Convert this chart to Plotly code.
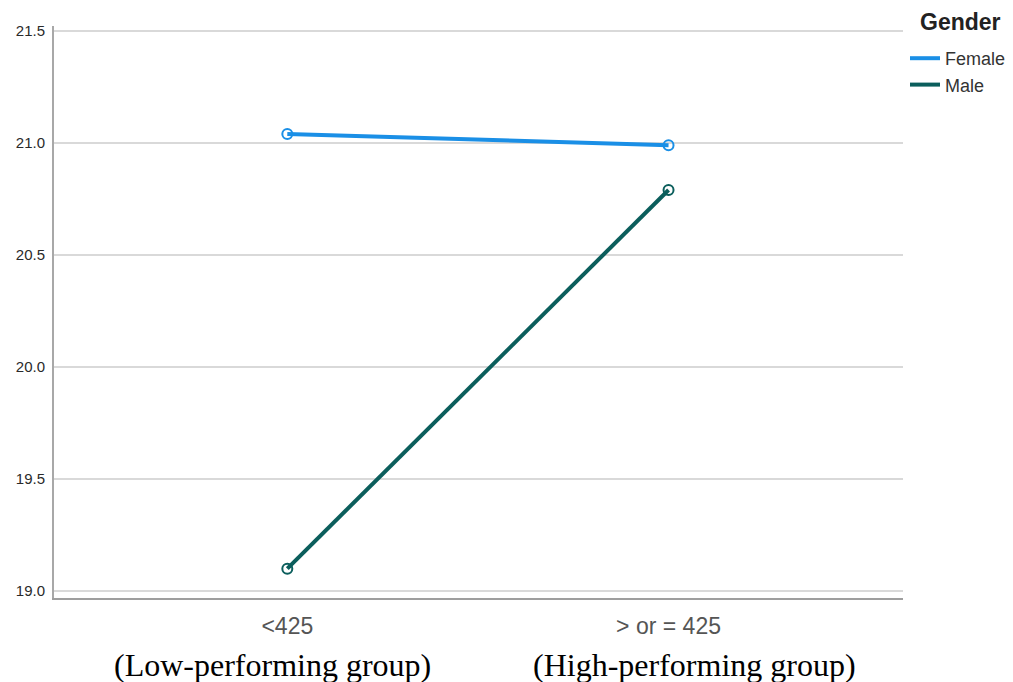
import plotly.graph_objects as go

categories = ["<425", "> or = 425"]
group_labels = ["(Low-performing group)", "(High-performing group)"]
female = [21.04, 20.99]
male = [19.10, 20.79]
y_ticks = [19.0, 19.5, 20.0, 20.5, 21.0, 21.5]
series_names = ["Female", "Male"]
series_colors = ["#1a8fe6", "#0b5e5c"]

x_pos = list(range(len(categories)))

# The page body has an 8px margin, so the figure is drawn 8px in from the window edge.
W, H = 1005, 674
L, R, T, B = 46, 110, 18, 84

fig = go.Figure()
for name, vals, col in zip(series_names, [female, male], series_colors):
    fig.add_trace(go.Scatter(
        x=x_pos, y=vals, name=name, mode="lines+markers", showlegend=False,
        line=dict(color=col, width=4),
        marker=dict(symbol="circle-open", size=10, line=dict(width=2), color=col),
    ))
for name, col in zip(series_names, series_colors):
    fig.add_trace(go.Scatter(
        x=[None], y=[None], name=name, mode="lines",
        line=dict(color=col, width=4),
    ))

ph = H - T - B
pw = W - L - R

for xi, lab, sh in zip(x_pos, group_labels, [-15, 26]):
    fig.add_annotation(x=xi, y=(H - B - 657) / ph, xref="x", yref="paper", text=lab,
                       showarrow=False, yanchor="middle", xshift=sh,
                       font=dict(family="Liberation Serif", size=32, color="#000"))

fig.add_annotation(x=(910 - L) / pw, y=(H - B - 14) / ph, xref="paper", yref="paper",
                   text="<b>Gender</b>", showarrow=False, xanchor="left", yanchor="middle",
                   font=dict(size=23, color="#222"))

fig.update_layout(
    width=W, height=H,
    margin=dict(l=L, r=R, t=T, b=B, autoexpand=False),
    plot_bgcolor="white", paper_bgcolor="white",
    font=dict(family="Liberation Sans", color="#333"),
    showlegend=True,
    legend=dict(
        xref="container", yref="container",
        x=897 / W, xanchor="left", y=1 - 32 / H, yanchor="top",
        font=dict(size=18, color="#333"),
        itemwidth=30, tracegroupgap=0, bgcolor="rgba(0,0,0,0)",
    ),
    xaxis=dict(
        range=[-0.612, 1.615], tickvals=x_pos, ticktext=categories,
        showgrid=False, zeroline=False, showline=True, linecolor="#9e9e9e", linewidth=2,
        tickfont=dict(size=23, color="#555"), ticks="", ticklabelstandoff=6,
    ),
    yaxis=dict(
        range=[18.969, 21.522], tickvals=y_ticks, ticktext=[f"{v:.1f}" for v in y_ticks],
        showgrid=True, gridcolor="#d9d9d9", gridwidth=2, zeroline=False,
        showline=True, linecolor="#a8a8a8", linewidth=2,
        tickfont=dict(size=15, color="#2a2a2a"), ticks="", ticklabelstandoff=4,
    ),
)

fig.write_html("out.html")
